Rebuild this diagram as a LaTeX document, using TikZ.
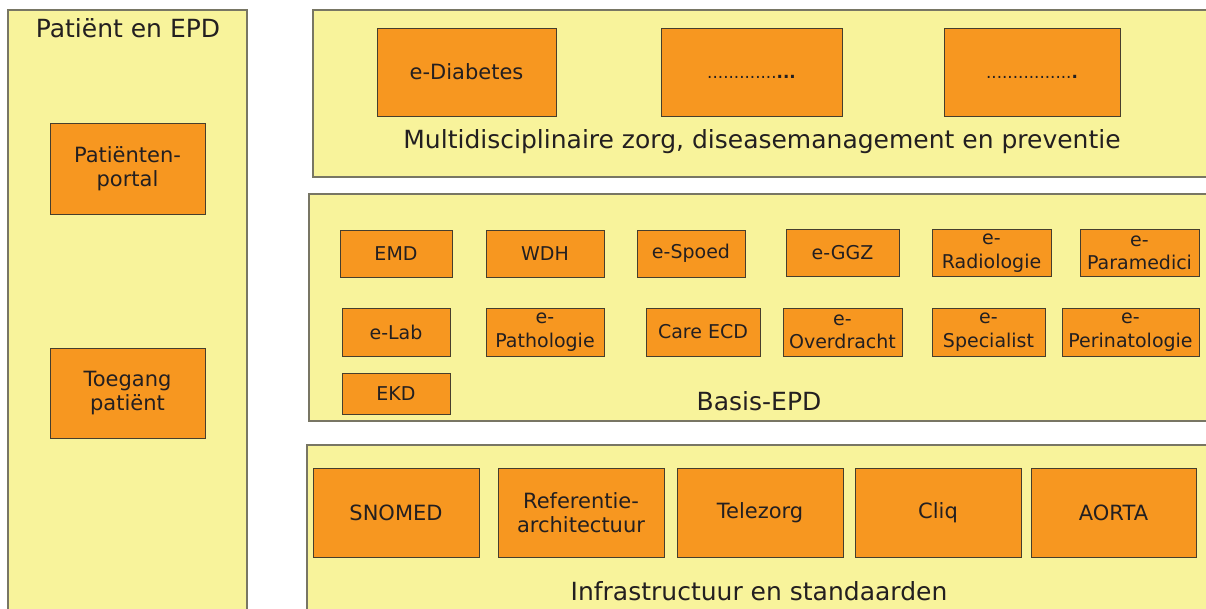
\documentclass[tikz,border=0pt]{standalone}
\usepackage{fontspec}
\setmainfont{DejaVu Sans}
\definecolor{panelY}{RGB}{248,243,155}
\definecolor{boxO}{RGB}{247,151,32}
\definecolor{edgeD}{RGB}{70,62,45}
\definecolor{edgeP}{RGB}{120,118,100}
\definecolor{txt}{RGB}{35,31,32}
\newcommand\dotrow[2]{\smash{\raisebox{-6pt}{\fontsize{16.8}{20}\selectfont #1\textbf{#2}}}}
\begin{document}
\begin{tikzpicture}[x=1pt,y=-1pt,
  panel/.style={draw=edgeP,fill=panelY,line width=1.2pt,inner sep=0pt},
  obox/.style={draw=edgeD,fill=boxO,line width=0.9pt,inner sep=0pt,align=center,text=txt,font=\fontsize{19}{23.5}\selectfont},
  bigbox/.style={obox,font=\fontsize{21}{24.5}\selectfont},
  lbl/.style={text=txt,inner sep=0pt,font=\fontsize{25}{29}\selectfont}]
\useasboundingbox (0,0) rectangle (1206,608);
\fill[white] (0,0) rectangle (1206,608);
% panels
\node[panel,minimum width=239pt,minimum height=610pt] (pleft) at (127.5,315) {};
\node[panel,minimum width=902pt,minimum height=167pt] (ptop) at (764,93.5) {};
\node[panel,minimum width=906pt,minimum height=227pt] (pmid) at (762,307.5) {};
\node[panel,minimum width=908pt,minimum height=175pt] (pbot) at (761,532.5) {};
% left panel
\node[lbl] (tleft) at (128,28) {Patiënt en EPD};
\node[bigbox,minimum width=155pt,minimum height=91pt] (portal) at (127.5,168.5) {Patiënten-\\portal};
\node[bigbox,minimum width=155pt,minimum height=90pt] (toegang) at (127.5,393) {Toegang\\patiënt};
% top panel
\node[bigbox,minimum width=179pt,minimum height=88pt] (diab) at (466.5,72) {e-Diabetes};
\node[bigbox,minimum width=181pt,minimum height=88pt] (dots1) at (751.5,72) {\dotrow{.............}{...}};
\node[bigbox,minimum width=176pt,minimum height=88pt] (dots2) at (1032,72) {\dotrow{................}{.}};
\node[lbl] (ttop) at (762,142) {Multidisciplinaire zorg, diseasemanagement en preventie};
% middle panel row 1
\node[obox,minimum width=112pt,minimum height=47pt] (emd) at (396,253.5) {EMD};
\node[obox,minimum width=118pt,minimum height=47pt] (wdh) at (545,253.5) {WDH};
\node[obox,minimum width=108pt,minimum height=47pt] (spoed) at (691,253.5) {e-Spoed};
\node[obox,minimum width=113pt,minimum height=47pt] (ggz) at (842.5,253) {e-GGZ};
\node[obox,minimum width=119pt,minimum height=47pt] (radio) at (991.5,253) {e-\\Radiologie};
\node[obox,minimum width=119pt,minimum height=47pt] (para) at (1139.5,253) {e-\\Paramedici};
% row 2
\node[obox,minimum width=108pt,minimum height=48pt] (lab) at (396,332) {e-Lab};
\node[obox,minimum width=118pt,minimum height=48pt] (patho) at (545,332) {e-\\Pathologie};
\node[obox,minimum width=114pt,minimum height=48pt] (care) at (703,332) {Care ECD};
\node[obox,minimum width=119pt,minimum height=48pt] (overd) at (842.5,332) {e-\\Overdracht};
\node[obox,minimum width=113pt,minimum height=48pt] (spec) at (988.5,332) {e-\\Specialist};
\node[obox,minimum width=137pt,minimum height=48pt] (peri) at (1130.5,332) {e-\\Perinatologie};
% row 3
\node[obox,minimum width=108pt,minimum height=41pt] (ekd) at (396,393.5) {EKD};
\node[lbl] (tmid) at (759,401) {Basis-EPD};
% bottom panel
\node[bigbox,minimum width=166pt,minimum height=89pt] (snomed) at (396,512.5) {SNOMED};
\node[bigbox,minimum width=166pt,minimum height=89pt] (refa) at (581,512.5) {Referentie-\\architectuur};
\node[bigbox,minimum width=166pt,minimum height=89pt] (tele) at (760,512.5) {Telezorg};
\node[bigbox,minimum width=166pt,minimum height=89pt] (cliq) at (938,512.5) {Cliq};
\node[bigbox,minimum width=165pt,minimum height=89pt] (aorta) at (1113.5,512.5) {AORTA};
\node[lbl] (tbot) at (759,591) {Infrastructuur en standaarden};
\end{tikzpicture}
\end{document}
